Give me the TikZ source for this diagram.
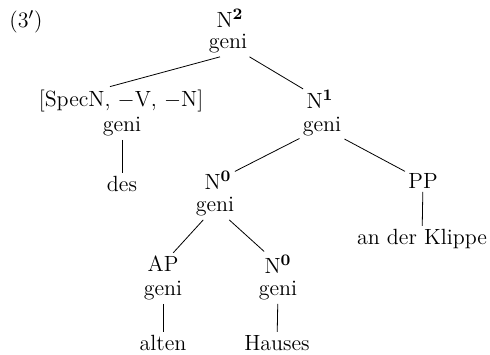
\documentclass[tikz,border=0pt]{standalone}
\begin{document}
\begin{tikzpicture}[x=0.5pt, y=-0.5pt, every node/.style={font=\fontsize{11}{13}\selectfont, inner sep=1.5pt}]
        \useasboundingbox (0,0) rectangle (490,354);
        \node (num) at (26,22) {(3$'$)};
        % top
        \node (n2) at (230,18) {N$^{\mathbf{2}}$};
        \node (n2g) at (228,44) {geni};
        \node (spec) at (121,101) {[SpecN, $-$V, $-$N]};
        \node (specg) at (122,127) {geni};
        \node (des) at (122,184) {des};
        \node (n1) at (320,99) {N$^{\mathbf{1}}$};
        \node (n1g) at (322,127) {geni};
        % middle
        \node (n0) at (218,180) {N$^{\mathbf{0}}$};
        \node (n0g) at (215,207) {geni};
        \node (pp) at (423,181) {PP};
        \node (pptxt) at (422,239) {an der Klippe};
        % bottom
        \node (ap) at (163,264) {AP};
        \node (apg) at (163,291) {geni};
        \node (alten) at (163,343) {alten};
        \node (n0b) at (278,264) {N$^{\mathbf{0}}$};
        \node (n0bg) at (278,291) {geni};
        \node (hauses) at (277,343) {Hauses};
        \draw ([xshift=-4pt]n2g.south)--([xshift=-5.5pt]spec.north);
        \draw (n2g)--(n1);
        \draw (specg)--(des);
        \draw (n1g)--(n0);
        \draw (n1g)--(pp);
        \draw (pp)--(pptxt);
        \draw (n0g)--(ap);
        \draw (n0g)--(n0b);
        \draw (apg)--(alten);
        \draw (n0bg)--(hauses);
    \end{tikzpicture}
\end{document}
